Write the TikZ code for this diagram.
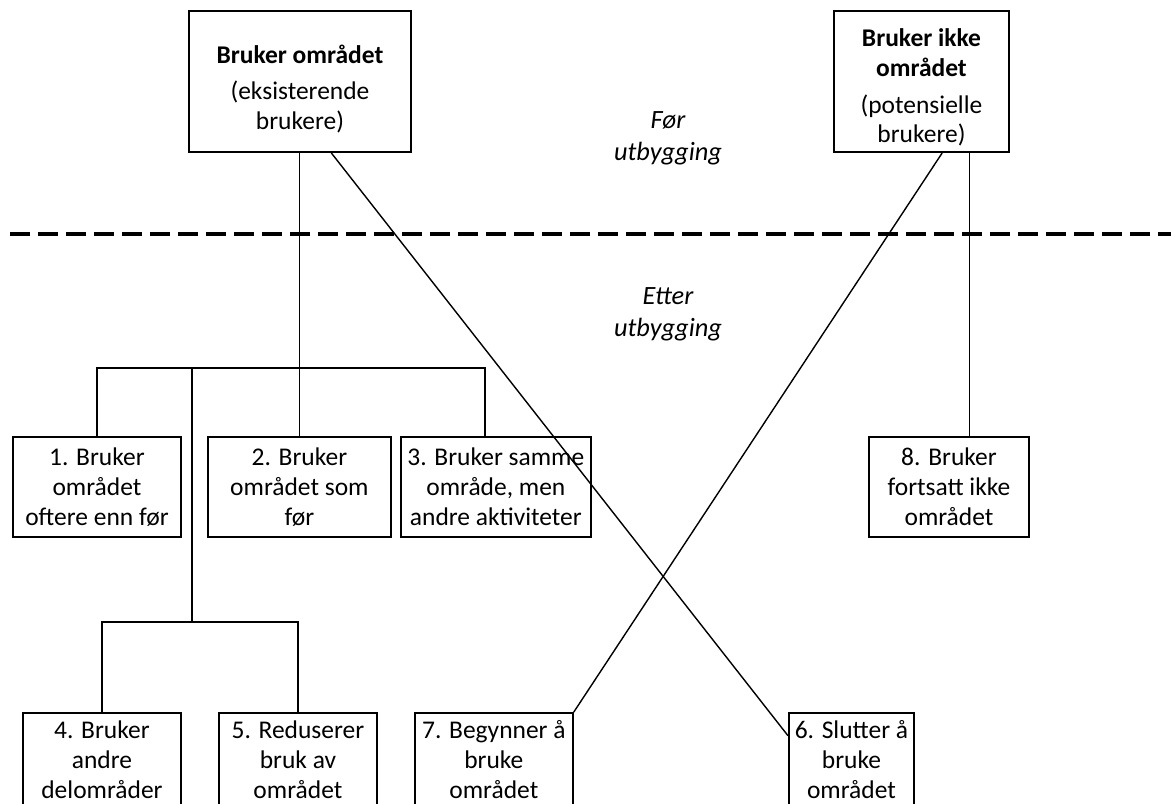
\documentclass[tikz,border=0pt]{standalone}
\usepackage{fontspec}
\setmainfont{Carlito}
\usetikzlibrary{positioning,calc}

\begin{document}
\begin{tikzpicture}[
    x=0.2mm, y=-0.2mm,
    node distance=0.5cm,
    box/.style={draw, line width=1.1pt, align=center, inner sep=2pt,
                font=\fontsize{14.5}{17}\selectfont, minimum height=2.0cm},
    topbox/.style={box, minimum height=2.82cm},
    lowbox/.style={box, minimum height=1.86cm, minimum width=3.16cm},
    wire/.style={line width=0.8pt},
    lbl/.style={font=\fontsize{15}{18}\selectfont\itshape, align=center}
]

\clip (0,0) rectangle (1171,803);

% --- before the development ---
\node[topbox, minimum width=4.44cm, anchor=north west] (users) at (188,10)
    {\rule{0pt}{19pt}\textbf{Bruker området}\\[4pt](eksisterende\\brukere)};
\node[topbox, minimum width=3.5cm, anchor=north west] (nonusers) at (833,10)
    {\rule{0pt}{17pt}\textbf{Bruker ikke}\\\textbf{området}\\[4pt](potensielle\\brukere)};

\node[lbl] (before) at (668,138) {Før\\utbygging};
\draw[line width=2.3pt, dash pattern=on 0.4cm off 0.16cm] (10,234) -- (1171,234);
\node[lbl] (after) at (668,314) {Etter\\utbygging};

% --- after: first row ---
\node[box, minimum width=3.36cm, anchor=north west] (more) at (12,436)
    {1. Bruker\\området\\oftere enn før};
\node[box, minimum width=3.66cm, right=0.5cm of more] (same)
    {2. Bruker\\området som\\før};
\node[box, minimum width=3.8cm, right=0.16cm of same] (other)
    {3. Bruker samme\\område, men\\andre aktiviteter};
\node[box, minimum width=3.2cm, anchor=north west] (still) at (868,436)
    {8. Bruker\\fortsatt ikke\\området};

% --- after: second row ---
\node[lowbox, anchor=north west] (parts) at (22,712)
    {4. Bruker\\andre\\delområder};
\node[lowbox, right=0.72cm of parts] (less)
    {5. Reduserer\\bruk av\\området};
\node[lowbox, right=0.72cm of less] (start)
    {7. Begynner å\\bruke\\området};
\node[lowbox, minimum width=2.5cm, anchor=north west] (stop) at (788,712)
    {6. Slutter å\\bruke\\området};

% tree from existing users
\coordinate (bar1) at (192,368);
\coordinate (bar2) at (192,622);
\coordinate (drop3) at (485,368);
\draw[wire] (users.south -| same.north) -- (same.north);
\draw[wire] (more.north) |- (bar1) -- (drop3) -- (drop3 |- other.north);
\draw[wire] (bar1) -- (bar2);
\draw[wire] (parts.north) |- (bar2) -| (less.north);

% crossing lines
\draw[wire] ($(users.south west)!0.64!(users.south east)$)
    -- ($(stop.north west)!0.25!(stop.south west)$);
\draw[wire] ($(nonusers.south west)!0.617!(nonusers.south east)$)
    -- (start.north east);
\coordinate (keep) at ($(nonusers.south west)!0.77!(nonusers.south east)$);
\draw[wire] (keep) -- (keep |- still.north);

\end{tikzpicture}
\end{document}
